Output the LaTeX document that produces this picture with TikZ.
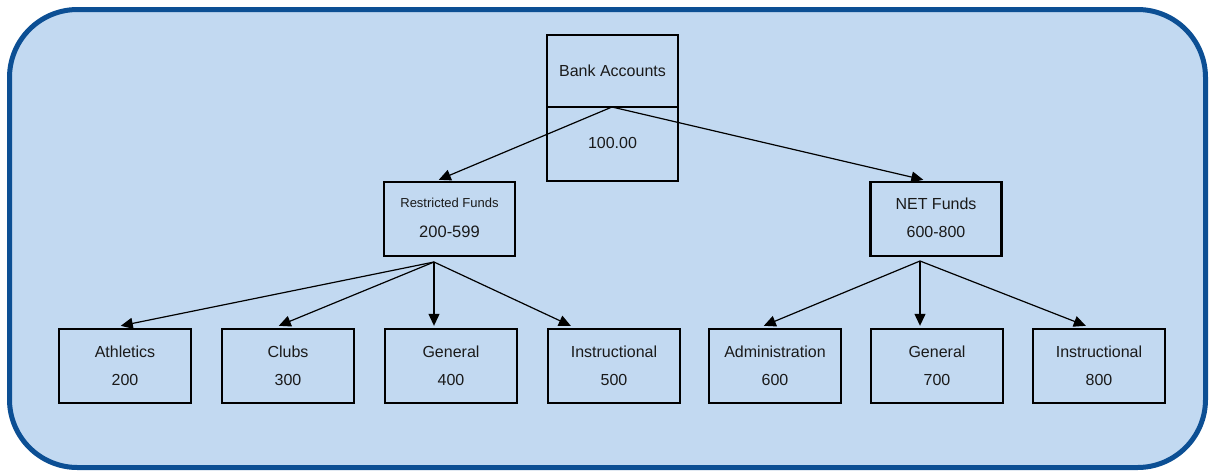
\documentclass[tikz,border=0pt]{standalone}
\usepackage{fontspec}
\setmainfont{Liberation Sans}
\usetikzlibrary{arrows.meta,calc}
\definecolor{bgfill}{HTML}{C2D9F1}
\definecolor{bgborder}{HTML}{0C4F94}
\definecolor{txt}{HTML}{1A1A1A}
\begin{document}
\begin{tikzpicture}[x=1pt,y=-1pt,
  box/.style={draw=black,line width=2.4pt,fill=bgfill,minimum width=131pt,minimum height=74pt,inner sep=0pt,align=center,text=txt},
  lbl/.style={font=\fontsize{16}{19}\selectfont,text=txt},
  conn/.style={line width=1.2pt,-{Triangle[length=12pt,width=11pt]}}]
\useasboundingbox (0,0) rectangle (1210,472);
\draw[bgborder,line width=5pt,fill=bgfill,rounded corners=68pt] (9.5,9.5) rectangle (1205.5,467.5);
% Bank accounts
\node[box,minimum width=131pt,minimum height=72pt] (banktop) at (612.5,71) {};
\node[box,minimum width=131pt,minimum height=74pt] (bankbot) at (612.5,144) {};
\node[lbl] (banktxt) at (612.5,71) {Bank Accounts};
\node[lbl] (banknum) at (612.5,143) {100.00};
\coordinate (bfan) at (612,107);
% middle
\node[box] (rf) at (449.5,219) {};
\node[font=\fontsize{13}{15}\selectfont,text=txt] (rft) at (449.5,203) {Restricted Funds};
\node[font=\fontsize{16.5}{19}\selectfont,text=txt] (rfn) at (449.5,232) {200-599};
\node[box] (nf) at (936,219) {};
\node[lbl] (nft) at (936,204) {NET Funds};
\node[lbl] (nfn) at (936,232) {600-800};
\coordinate (rfan) at (434,262);
\coordinate (nfan) at (920,261);
% bottom
\foreach \n/\x/\a/\b in {ath/125/Athletics/200,clb/288/Clubs/300,gen/451/General/400,ins/614/Instructional/500,adm/775/Administration/600,gen2/937/General/700,ins2/1099/Instructional/800}{
  \node[box,minimum width=132pt] (\n) at (\x,366) {};
  \node[lbl] (\n t) at (\x,352) {\a};
  \node[lbl] (\n n) at (\x,380) {\b};
}
% connectors
\draw[conn] (bfan) -- ($(rf.north west)+(56,-1)$);
\draw[conn] (bfan) -- ($(nf.north west)+(54,-1)$);
\draw[conn] (rfan) -- ($(ath.north west)+(63,-2)$);
\draw[conn] (rfan) -- ($(clb.north west)+(58,-2)$);
\draw[conn] (rfan) -- ($(rfan |- gen.north)+(0,-2)$);
\draw[conn] (rfan) -- ($(ins.north west)+(24,-2)$);
\draw[conn] (nfan) -- ($(adm.north west)+(56,-2)$);
\draw[conn] (nfan) -- ($(nfan |- gen2.north)+(0,-2)$);
\draw[conn] (nfan) -- ($(ins2.north west)+(54,-2)$);
\end{tikzpicture}
\end{document}
